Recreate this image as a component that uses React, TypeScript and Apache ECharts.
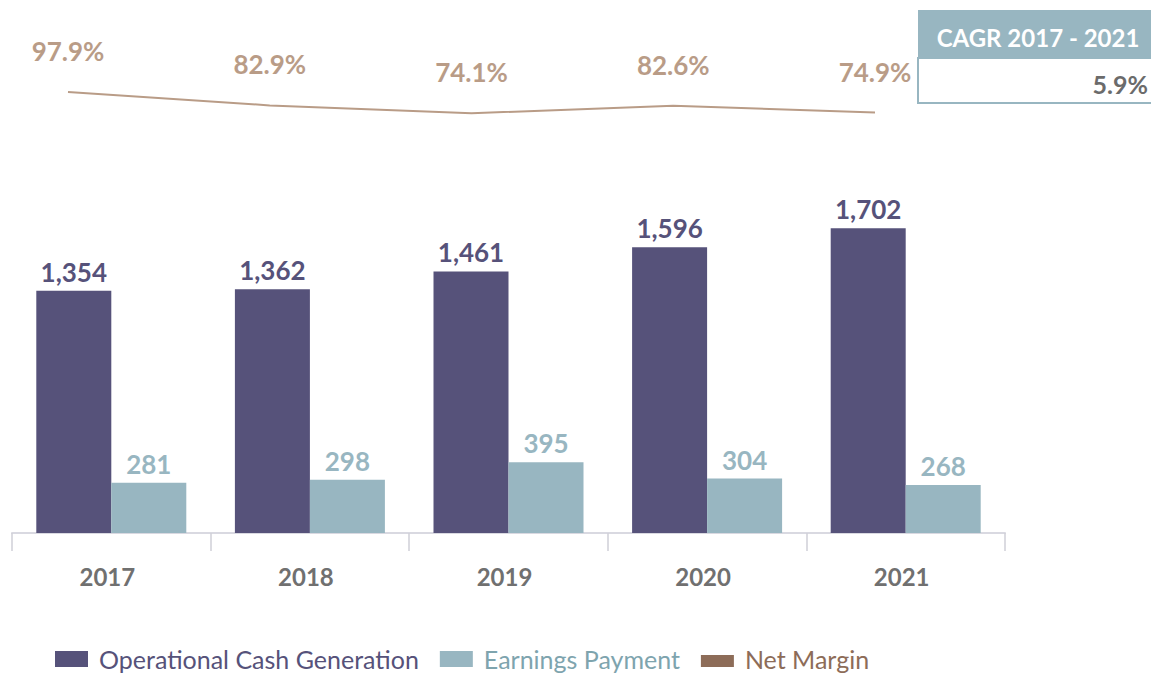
import React, { useEffect, useRef } from "react";
import * as echarts from "echarts";

const years = ["2017", "2018", "2019", "2020", "2021"];
const operationalCash = [1354, 1362, 1461, 1596, 1702];
const earningsPayment = [281, 298, 395, 304, 268];
const netMargin = [97.9, 82.9, 74.1, 82.6, 74.9];
const cagrTitle = "CAGR 2017 - 2021";
const cagrValue = "5.9%";

const DARK = "#56527a";
const LIGHT = "#98b6c1";
const LINE = "#b99c87";
const LEGEND_BROWN = "#8d6c58";
const FONT = "Lato, 'Noto Sans', sans-serif";

export default function App() {
  const ref = useRef<HTMLDivElement>(null);
  useEffect(() => {
    if (!ref.current) return;
    const chart = echarts.init(ref.current, null, { renderer: "svg" });
    const fmt = (v: number) => v.toLocaleString("en-US");
    chart.setOption({
      animation: false,
      backgroundColor: "#ffffff",
      textStyle: { fontFamily: FONT },
      grid: [
        { left: 12, right: 146, top: 175, bottom: 141 },
        { left: 68, right: 276, top: 90, height: 90 },
      ],
      xAxis: [
        {
          type: "category",
          gridIndex: 0,
          data: years,
          boundaryGap: true,
          axisLine: { show: true, lineStyle: { color: "#d9d9e1", width: 2 } },
          axisTick: { show: true, length: 18, interval: 0, lineStyle: { color: "#cfcfd7", width: 1.5 } },
          axisLabel: {
            margin: 31,
            color: "#707070",
            fontSize: 24,
            fontWeight: "bold",
            fontFamily: FONT,
            padding: [0, 8, 0, 0],
          },
        },
        {
          type: "category",
          gridIndex: 1,
          data: years,
          boundaryGap: false,
          show: false,
        },
      ],
      yAxis: [
        { type: "value", gridIndex: 0, min: 0, max: 2000, show: false },
        { type: "value", gridIndex: 1, min: 0, max: 100, show: false },
      ],
      legend: {
        left: 55,
        top: 645,
        padding: 0,
        itemWidth: 33,
        itemHeight: 16,
        itemGap: 21,
        textStyle: { fontSize: 25, lineHeight: 28, fontFamily: FONT, padding: [0, 0, 0, 6] },
        data: [
          { name: "Operational Cash Generation", icon: "rect", textStyle: { color: DARK } },
          { name: "Earnings Payment", icon: "rect", textStyle: { color: "#7ea4ae" } },
          {
            name: "Net Margin",
            icon: "path://M0,0M0,4H33V16H0Z",
            itemStyle: { color: LEGEND_BROWN },
            textStyle: { color: LEGEND_BROWN },
          },
        ],
      },
      series: [
        {
          name: "Operational Cash Generation",
          type: "bar",
          xAxisIndex: 0,
          yAxisIndex: 0,
          data: operationalCash,
          barWidth: 75,
          barGap: "0%",
          itemStyle: { color: DARK },
          label: {
            show: true,
            position: "top",
            distance: 6,
            color: DARK,
            fontSize: 26,
            fontWeight: "bold",
            fontFamily: FONT,
            formatter: (p: any) => fmt(p.value),
          },
        },
        {
          name: "Earnings Payment",
          type: "bar",
          xAxisIndex: 0,
          yAxisIndex: 0,
          data: earningsPayment,
          barWidth: 75,
          barGap: "0%",
          itemStyle: { color: LIGHT },
          label: {
            show: true,
            position: "top",
            distance: 6,
            color: LIGHT,
            fontSize: 26,
            fontWeight: "bold",
            fontFamily: FONT,
            formatter: (p: any) => fmt(p.value),
          },
        },
        {
          name: "Net Margin",
          type: "line",
          xAxisIndex: 1,
          yAxisIndex: 1,
          data: netMargin,
          showSymbol: true,
          symbol: "circle",
          symbolSize: 0,
          lineStyle: { color: LINE, width: 2 },
          itemStyle: { color: LEGEND_BROWN },
          label: {
            show: true,
            position: "top",
            distance: 28,
            color: LINE,
            fontSize: 26,
            fontWeight: "bold",
            fontFamily: FONT,
            formatter: (p: any) => p.value.toFixed(1) + "%",
          },
        },
      ],
      graphic: [
        {
          type: "rect",
          shape: { x: 918, y: 10, width: 245, height: 48 },
          style: { fill: LIGHT },
        },
        {
          type: "rect",
          shape: { x: 918, y: 58, width: 245, height: 45 },
          style: { fill: "#ffffff", stroke: LIGHT, lineWidth: 2 },
        },
        {
          type: "text",
          x: 1038,
          y: 37,
          style: {
            text: cagrTitle,
            fill: "#ffffff",
            fontSize: 24,
            fontWeight: "bold",
            fontFamily: FONT,
            align: "center",
            verticalAlign: "middle",
          },
        },
        {
          type: "text",
          x: 1148,
          y: 84,
          style: {
            text: cagrValue,
            fill: "#6b6b6b",
            fontSize: 25,
            fontWeight: "bold",
            fontFamily: FONT,
            align: "right",
            verticalAlign: "middle",
          },
        },
      ],
    });
    return () => chart.dispose();
  }, []);
  return (
    <div
      ref={ref}
      style={{ position: "absolute", left: 0, top: 0, width: 1151, height: 674 }}
    />
  );
}
